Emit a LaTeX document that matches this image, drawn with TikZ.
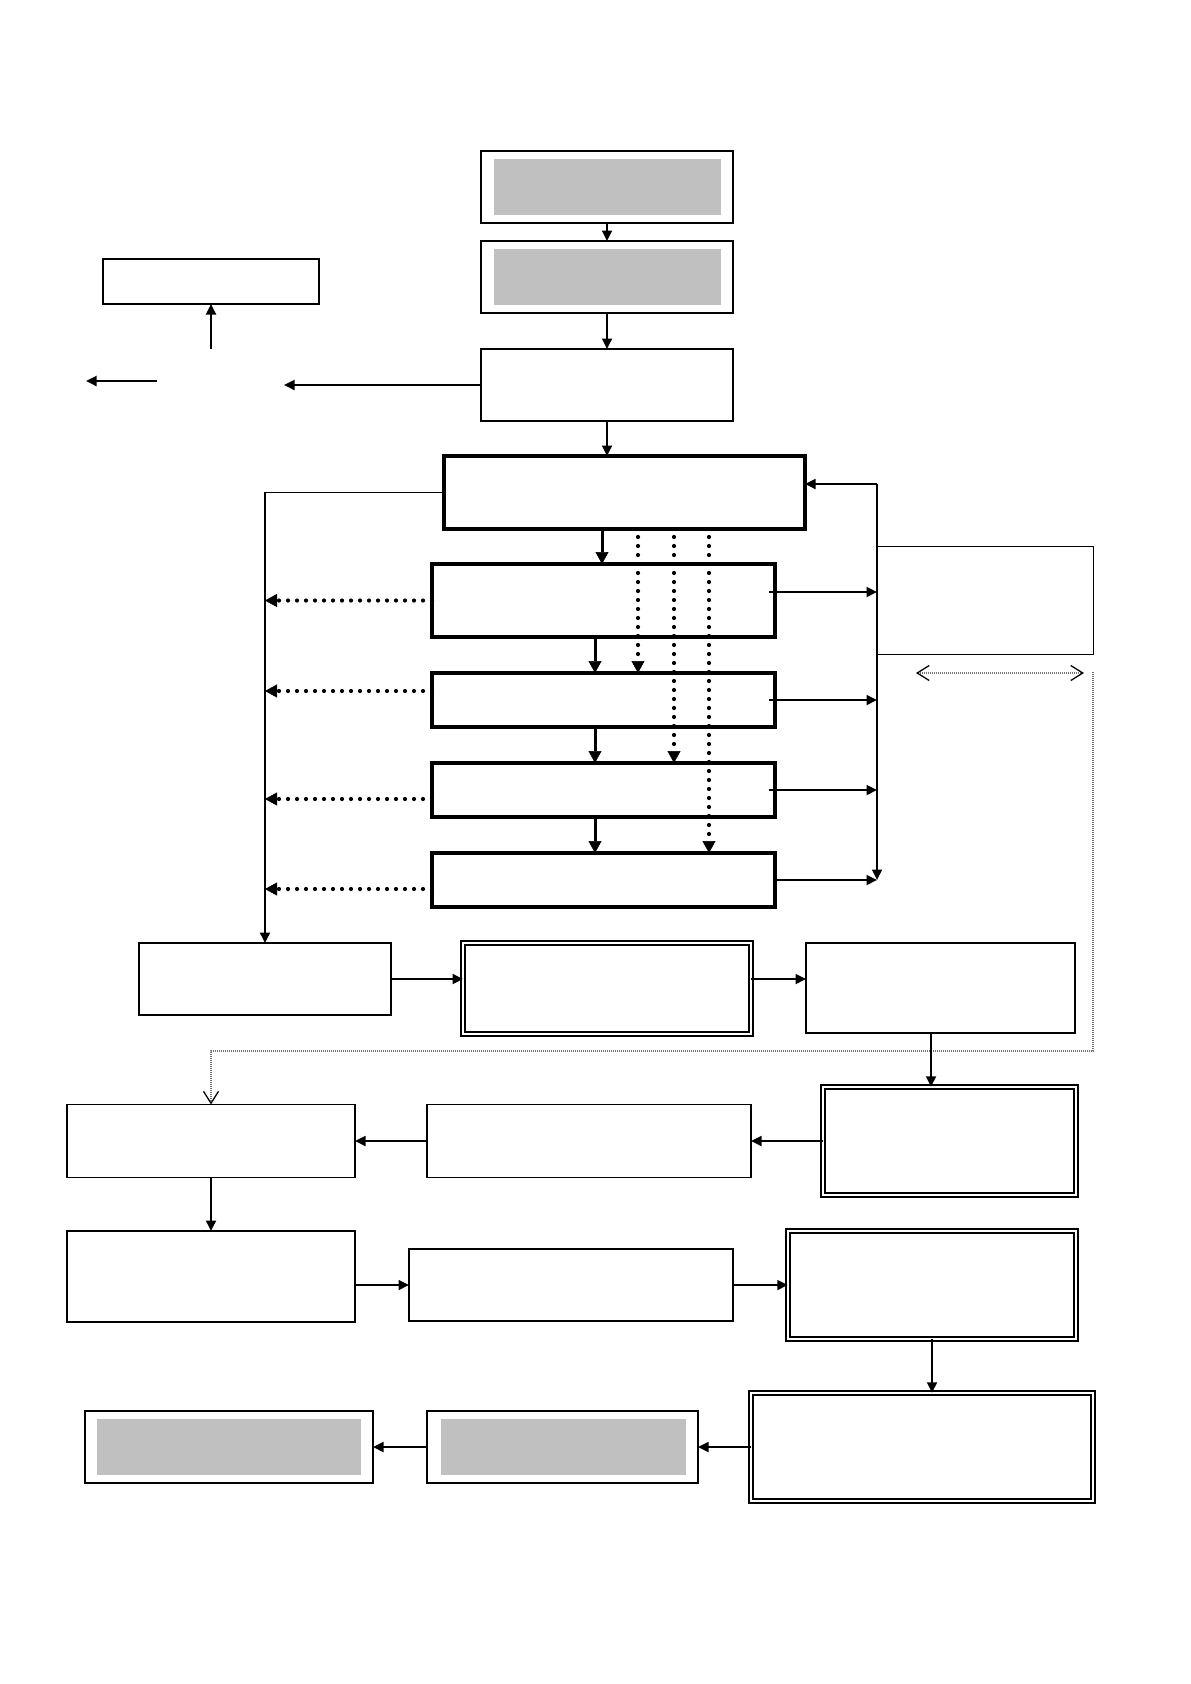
\documentclass[tikz,border=0pt]{standalone}
\usetikzlibrary{arrows.meta,calc}
\definecolor{fillgray}{RGB}{192,192,192}
\tikzset{chevtip/.tip={Straight Barb[length=12pt,width=15pt,line width=1.3pt,color=black]}}
\begin{document}
\begin{tikzpicture}[x=1pt,y=-1pt,
  box/.style={draw, line width=1.8pt, inner sep=0pt, outer sep=0pt},
  thickbox/.style={draw, line width=3.5pt, inner sep=0pt, outer sep=0pt},
  dbox/.style={draw, line width=1.6pt, double, double distance=2.4pt, inner sep=0pt, outer sep=0pt},
  notebox/.style={draw, line width=1pt, inner sep=0pt, outer sep=0pt},
  arr/.style={line width=1.8pt, -{Triangle[length=10.5pt,width=10pt]}},
  tarr/.style={line width=3pt, -{Triangle[length=12pt,width=13pt,line width=0.5pt]}},
  dotarr/.style={line width=4.2pt, line cap=round, dash pattern=on 0pt off 9pt, -{Triangle[length=12pt,width=13pt,line width=0.5pt]}},
  graydot/.style={draw=black!55, line width=1.2pt, dash pattern=on 1pt off 1pt},
]
\path[fill=white] (0,0) rectangle (1191,1684);
\useasboundingbox (0,0) rectangle (1191,1684);

% top column
\node[box, minimum width=252pt, minimum height=72pt] (T1) at (607,187) {};
\node[box, minimum width=252pt, minimum height=72pt] (T2) at (607,277) {};
\node[box, minimum width=252pt, minimum height=72pt] (T3) at (607,385) {};
\fill[fillgray] ($(T1.north west)+(13,8)$) rectangle ($(T1.south east)+(-12,-8)$);
\fill[fillgray] ($(T2.north west)+(13,8)$) rectangle ($(T2.south east)+(-12,-8)$);
\node[box, minimum width=216pt, minimum height=45pt] (TL) at (211,281.5) {};

% thick stack
\node[thickbox, minimum width=361pt, minimum height=73pt] (TH) at (624.5,492.5) {};
\node[thickbox, minimum width=343pt, minimum height=73pt] (S2) at (603.5,600.5) {};
\node[thickbox, minimum width=343pt, minimum height=54pt] (S3) at (603.5,700) {};
\node[thickbox, minimum width=343pt, minimum height=54pt] (S4) at (603.5,790) {};
\node[thickbox, minimum width=343pt, minimum height=54pt] (S5) at (603.5,880) {};
\node[notebox, minimum width=216pt, minimum height=108pt] (NB) at (985,600) {};

% row 1
\node[box, minimum width=252pt, minimum height=72pt] (R1L) at (265,979) {};
\node[dbox, minimum width=287.75pt, minimum height=91pt] (R1D) at (606.9,988.5) {};
\node[box, minimum width=269pt, minimum height=90pt] (R1R) at (940.5,988) {};
% row 2
\node[box, minimum width=288pt, minimum height=73pt] (R2L) at (211,1141) {};
\node[box, minimum width=324pt, minimum height=73pt] (R2M) at (589,1141) {};
\node[dbox, minimum width=252.75pt, minimum height=108.5pt] (R2D) at (949.4,1141) {};
% row 3
\node[box, minimum width=288pt, minimum height=91pt] (R3L) at (211,1276.5) {};
\node[box, minimum width=324pt, minimum height=72pt] (R3M) at (571,1285) {};
\node[dbox, minimum width=288.5pt, minimum height=108pt] (R3D) at (932,1285) {};
% row 4
\node[dbox, minimum width=342pt, minimum height=108.5pt] (R4D) at (922,1447) {};
\node[box, minimum width=271pt, minimum height=72pt] (R4M) at (562.5,1447) {};
\node[box, minimum width=288pt, minimum height=72pt] (R4L) at (229,1447) {};
\fill[fillgray] ($(R4M.north west)+(14,8)$) rectangle ($(R4M.south east)+(-12,-8)$);
\fill[fillgray] ($(R4L.north west)+(12,8)$) rectangle ($(R4L.south east)+(-12,-8)$);

% top connectors
\draw[arr] (T1.south) -- (T2.north);
\draw[arr] (T2.south) -- (T3.north);
\draw[arr] (T3.south) -- (T3.south |- TH.north);
\coordinate (ua) at (211,349);
\draw[arr] (ua) -- (TL.south);
\coordinate (la1) at (157,381);
\coordinate (la2) at (86,381);
\draw[arr] (la1) -- (la2);
\coordinate (la3) at (284,385);
\draw[arr] (T3.west) -- (la3);

% left line
\draw[arr] (TH.west) -| (R1L.north);

% thick arrows
\coordinate (k0) at ([xshift=-22.5pt]TH.south);
\draw[tarr] (k0) -- (k0 |- S2.north);
\coordinate (k1) at ([xshift=-8.5pt]S2.south);
\draw[tarr] (k1) -- (k1 |- S3.north);
\coordinate (k2) at ([xshift=-8.5pt]S3.south);
\draw[tarr] (k2) -- (k2 |- S4.north);
\coordinate (k3) at ([xshift=-8.5pt]S4.south);
\draw[tarr] (k3) -- (k3 |- S5.north);

% dotted verticals
\coordinate (d1) at ([xshift=13.5pt,yshift=-8pt]TH.south);
\coordinate (d2) at ([xshift=49.5pt,yshift=-8pt]TH.south);
\coordinate (d3) at ([xshift=84.5pt,yshift=-8pt]TH.south);
\draw[dotarr] (d1) -- (d1 |- S3.north);
\draw[dotarr] (d2) -- (d2 |- S4.north);
\draw[dotarr] (d3) -- (d3 |- S5.north);

% left dotted arrows
\coordinate (l2) at (S2.west);
\coordinate (l3) at ([yshift=9pt]S3.west);
\coordinate (l4) at ([yshift=-9pt]S4.west);
\coordinate (l5) at ([yshift=-9pt]S5.west);
\draw[dotarr] (l2) -- (l2 -| R1L.north);
\draw[dotarr] (l3) -- (l3 -| R1L.north);
\draw[dotarr] (l4) -- (l4 -| R1L.north);
\draw[dotarr] (l5) -- (l5 -| R1L.north);

% right side
\coordinate (vtop) at (877,484);
\coordinate (vbot) at (877,880);
\draw[arr] (vtop) -- (vbot);
\draw[arr] (vtop) -- (vtop -| TH.east);
\coordinate (r2) at ([xshift=-6pt,yshift=8.5pt]S2.east);
\coordinate (r3) at ([xshift=-6pt]S3.east);
\coordinate (r4) at ([xshift=-6pt]S4.east);
\draw[arr] (r2) -- (r2 -| vtop);
\draw[arr] (r3) -- (r3 -| vtop);
\draw[arr] (r4) -- (r4 -| vtop);
\draw[arr] (S5.east) -- (S5.east -| vtop);

% gray dotted
\coordinate (da) at (916,673);
\coordinate (db) at (1084,673);
\draw[graydot, chevtip-chevtip] (da) -- (db);
\coordinate (g1) at (1093,672);
\coordinate (g2) at (1093,1051);
\draw[graydot, -chevtip] (g1) -- (g2) -| (R2L.north);

% row connectors
\draw[arr] (R1L.east) -- (R1L.east -| R1D.west);
\draw[arr] (R1L.east -| R1D.east) -- (R1L.east -| R1R.west);
\coordinate (c1) at ([xshift=-9.5pt]R1R.south);
\draw[arr] (c1) -- (c1 |- R2D.north);
\draw[arr] (R2D.west) -- (R2D.west -| R2M.east);
\draw[arr] (R2M.west) -- (R2M.west -| R2L.east);
\draw[arr] (R2L.south) -- (R2L.south |- R3L.north);
\draw[arr] (R3M.west -| R3L.east) -- (R3M.west);
\draw[arr] (R3M.east) -- (R3D.west);
\draw[arr] (R3D.south) -- (R3D.south |- R4D.north);
\draw[arr] (R4D.west) -- (R4D.west -| R4M.east);
\draw[arr] (R4M.west) -- (R4M.west -| R4L.east);
\end{tikzpicture}
\end{document}
